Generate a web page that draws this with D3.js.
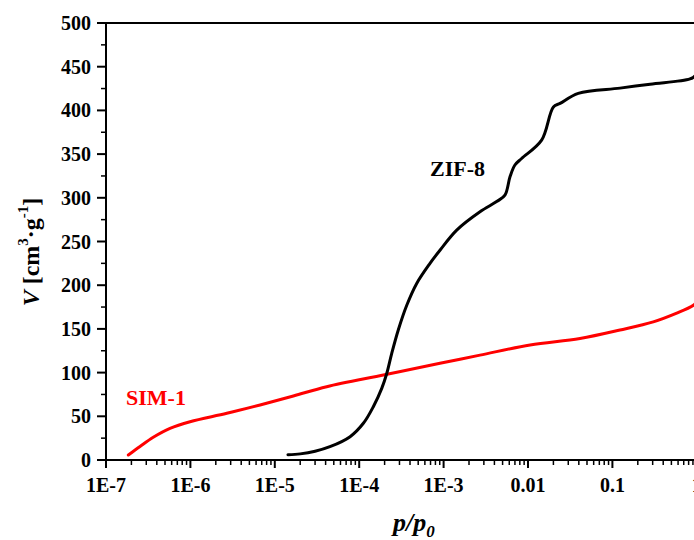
<!DOCTYPE html>
<html><head><meta charset="utf-8">
<script src="https://cdn.jsdelivr.net/npm/d3@7"></script>
<style>html,body{margin:0;padding:0;background:#fff;overflow:hidden}</style>
</head><body>
<svg id="chart" width="694" height="540"></svg>
<script>
// ---- data ----
const zifP = [1.43e-5, 2.0e-5, 3.0e-5, 4.5e-5, 7.8e-5, 1.12e-4, 1.47e-4, 1.85e-4, 2.12e-4, 2.43e-4, 2.91e-4, 3.66e-4, 4.8e-4, 6.9e-4, 9.06e-4, 1.43e-3, 2.7e-3, 4.3e-3, 5.33e-3, 6.12e-3, 7.0e-3, 8.4e-3, 0.0145, 0.020, 0.024, 0.0394, 0.123, 0.28, 0.83, 0.96, 1.0];
const zifV = [6, 7, 10, 15.2, 26.7, 42, 61, 82, 99, 122, 149, 177, 202, 225, 240, 263, 284, 296, 303, 324, 337.5, 345, 366, 404, 408, 419.5, 425.5, 430, 436, 440, 448];
const simP = [1.84e-7, 2.53e-7, 3.63e-7, 5.73e-7, 9.9e-7, 2.7e-6, 6.7e-6, 1.66e-5, 4.12e-5, 2.0e-4, 9.06e-4, 2.7e-3, 0.0106, 0.0413, 0.123, 0.305, 0.578, 0.91, 1.0];
const simV = [5.7, 15.5, 26, 36.2, 43.8, 53.4, 63, 73.2, 83.9, 97.5, 110.6, 120, 131.6, 139, 148.7, 158, 168, 177, 181];
const xTickValues = [1e-7, 1e-6, 1e-5, 1e-4, 1e-3, 0.01, 0.1, 1];
const xTickLabels = ["1E-7", "1E-6", "1E-5", "1E-4", "1E-3", "0.01", "0.1", "1"];
const yTickValues = [0, 50, 100, 150, 200, 250, 300, 350, 400, 450, 500];

(function () {
// ---- layout ----
const mLeft = 106, mTop = 23, mBottom = 460, decade = 84.4;
const svg = d3.select("#chart");
const font = "'Liberation Serif','Times New Roman',serif";
const x = d3.scaleLog().domain([1e-7, 1]).range([mLeft, mLeft + 7 * decade]);
const y = d3.scaleLinear().domain([0, 500]).range([mBottom, mTop]);

// minor ticks
const xMinor = [];
for (let e = -7; e < 0; e++) for (let k = 2; k <= 9; k++) xMinor.push(k * Math.pow(10, e));
const yMinor = d3.range(25, 500, 50);

// X axis
const gx = svg.append("g").attr("transform", `translate(0,${mBottom})`);
gx.append("line").attr("x1", mLeft).attr("x2", 694).attr("stroke", "#000").attr("stroke-width", 2);
gx.selectAll(".mj").data(xTickValues).join("line").attr("class", "mj")
  .attr("x1", d => x(d)).attr("x2", d => x(d)).attr("y1", 0).attr("y2", 8)
  .attr("stroke", "#000").attr("stroke-width", 2);
gx.selectAll(".mn").data(xMinor).join("line").attr("class", "mn")
  .attr("x1", d => x(d)).attr("x2", d => x(d)).attr("y1", 0).attr("y2", 5)
  .attr("stroke", "#000").attr("stroke-width", 1.5);
gx.selectAll("text").data(xTickValues).join("text")
  .attr("x", d => x(d)).attr("y", 32).attr("text-anchor", "middle")
  .attr("font-family", font).attr("font-weight", "bold").attr("font-size", 20)
  .text((d, i) => xTickLabels[i]);

// Y axis
const gy = svg.append("g").attr("transform", `translate(${mLeft},0)`);
gy.append("line").attr("y1", mTop).attr("y2", mBottom + 1).attr("stroke", "#000").attr("stroke-width", 2);
gy.selectAll(".mj").data(yTickValues).join("line").attr("class", "mj")
  .attr("y1", d => y(d)).attr("y2", d => y(d)).attr("x1", 0).attr("x2", -9)
  .attr("stroke", "#000").attr("stroke-width", 2);
gy.selectAll(".mn").data(yMinor).join("line").attr("class", "mn")
  .attr("y1", d => y(d)).attr("y2", d => y(d)).attr("x1", 0).attr("x2", -5)
  .attr("stroke", "#000").attr("stroke-width", 1.5);
gy.selectAll("text").data(yTickValues).join("text")
  .attr("x", -15).attr("y", d => y(d) + 7).attr("text-anchor", "end")
  .attr("font-family", font).attr("font-weight", "bold").attr("font-size", 20)
  .text(d => d);

// top frame line
svg.append("line").attr("x1", mLeft).attr("x2", 694).attr("y1", mTop).attr("y2", mTop)
  .attr("stroke", "#000").attr("stroke-width", 2);

// curves
const line = d3.line().x(d => x(d[0])).y(d => y(d[1])).curve(d3.curveCatmullRom.alpha(0.5));
svg.append("path").datum(simP.map((p, i) => [p, simV[i]]))
  .attr("d", line).attr("fill", "none").attr("stroke", "#ff0000").attr("stroke-width", 3)
  .attr("stroke-linejoin", "round").attr("stroke-linecap", "round");
svg.append("path").datum(zifP.map((p, i) => [p, zifV[i]]))
  .attr("d", line).attr("fill", "none").attr("stroke", "#000").attr("stroke-width", 3)
  .attr("stroke-linejoin", "round").attr("stroke-linecap", "round");

// series labels
svg.append("text").attr("x", 430).attr("y", 176)
  .attr("font-family", font).attr("font-weight", "bold").attr("font-size", 22).text("ZIF-8");
svg.append("text").attr("x", 126).attr("y", 405).attr("fill", "#ff0000")
  .attr("font-family", font).attr("font-weight", "bold").attr("font-size", 22).text("SIM-1");

// Y title
const yt = svg.append("text").attr("transform", "translate(39,252) rotate(-90)")
  .attr("text-anchor", "middle").attr("font-family", font).attr("font-weight", "bold").attr("font-size", 24);
yt.append("tspan").attr("font-style", "italic").text("V");
yt.append("tspan").text(" [cm");
yt.append("tspan").attr("font-size", 15).attr("dy", -11).text("3");
yt.append("tspan").attr("dy", 11).text("·g");
yt.append("tspan").attr("font-size", 15).attr("dy", -11).text("-1");
yt.append("tspan").attr("dy", 11).text("]");

// X title
const xt = svg.append("text").attr("x", 393).attr("y", 531)
  .attr("font-family", font).attr("font-weight", "bold").attr("font-style", "italic").attr("font-size", 26);
xt.append("tspan").text("p/p");
xt.append("tspan").attr("font-size", 17).attr("dy", 6).text("0");
})();
</script>
</body></html>
